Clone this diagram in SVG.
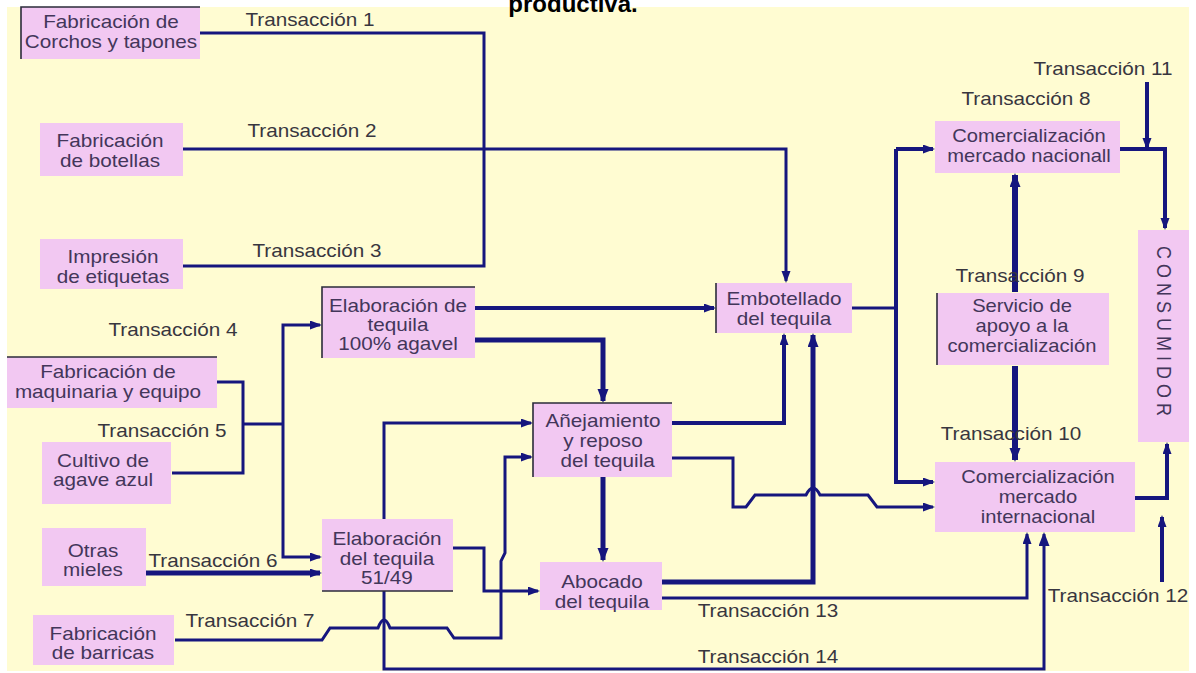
<svg xmlns="http://www.w3.org/2000/svg" width="1196" height="673" viewBox="0 0 1196 673">
  <defs>
    <marker id="ah" markerUnits="userSpaceOnUse" markerWidth="13" markerHeight="10" refX="10" refY="4.5" orient="auto">
      <path d="M0,0 L12,4.5 L0,9 z" fill="#16167e"/>
    </marker>
    <marker id="ahb" markerUnits="userSpaceOnUse" markerWidth="15" markerHeight="12" refX="12" refY="5.5" orient="auto">
      <path d="M0,0 L14,5.5 L0,11 z" fill="#16167e"/>
    </marker>
  </defs>
  <style>
    .bg{fill:#fffcd2}
    .box{fill:#f2c8f2}
    .edge{fill:none;stroke:#2b2b3a;stroke-width:1.6}
    .t{font-family:"Liberation Sans",Arial,Helvetica,sans-serif;font-size:18px;fill:#43365a;text-anchor:middle}
    .lbl{font-family:"Liberation Sans",Arial,Helvetica,sans-serif;font-size:18px;fill:#38363f;text-anchor:middle}
    .title{font-family:"Liberation Sans",Arial,Helvetica,sans-serif;font-size:24px;font-weight:bold;fill:#000;text-anchor:middle}
    .c{fill:none;stroke:#16167e;stroke-width:3;stroke-linejoin:miter}
    .w4{stroke-width:4}
    .w5{stroke-width:5}
    .w6{stroke-width:6}
    .a{marker-end:url(#ah)}
    .ab{marker-end:url(#ahb)}
  </style>

  <!-- page -->
  <rect x="0" y="0" width="1196" height="673" fill="#ffffff"/>
  <rect class="bg" x="7" y="7" width="1182" height="664"/>
  <text class="title" x="573" y="12">productiva.</text>

  <!-- connectors -->
  <g id="connectors">
    <path class="c" d="M200 33 H484 V266 H183"/>
    <path class="c a" d="M183 149 H786 V281"/>
    <path class="c w4 a" d="M475 308 H714"/>
    <path class="c w5 ab" d="M475 340 H603 V401"/>
    <path class="c" d="M217 382 H243 V473 H172"/>
    <path class="c" d="M243 424 H283"/>
    <path class="c a" d="M283 424 V325 H320"/>
    <path class="c a" d="M283 424 V557 H320"/>
    <path class="c w5 a" d="M146 573 H320"/>
    <path class="c a" d="M384 519 V423 H531"/>
    <path class="c a" d="M453 548 H484 V591 H538"/>
    <path class="c a" d="M175 640 H322 L330 628 H378 Q384 612 390 628 H447 L454 638 H501 V561 L505 553 V457 H531"/>
    <path class="c" d="M384 591 V669 H1044 V600"/>
    <path class="c ab" d="M1044 600 V534"/>
    <path class="c w5 ab" d="M603 477 V560"/>
    <path class="c w4 a" d="M672 423 H784 V335"/>
    <path class="c a" d="M672 458 H733 V507 H746 L755 495 H806 Q813 481 820 495 H868 L877 507 H933"/>
    <path class="c w5 ab" d="M662 582 H813 V335"/>
    <path class="c a" d="M662 598 H1027 V534"/>
    <path class="c" d="M852 308 H896"/>
    <path class="c w4 a" d="M896 149 H933"/>
    <path class="c w4 a" d="M896 149 V482 H933"/>
    <path class="c w6 ab" d="M1015 292 V175"/>
    <path class="c w6 ab" d="M1015 366 V460"/>
    <path class="c w4 a" d="M1120 149 H1165 V228"/>
    <path class="c w4 a" d="M1147 82 V148"/>
    <path class="c w4 a" d="M1135 498 H1167 V444"/>
    <path class="c w4 a" d="M1162 582 V517"/>
  </g>

  <!-- connector labels -->
  <g id="labels">
    <text class="lbl" transform="translate(310 26) scale(1.15 1)">Transacción 1</text>
    <text class="lbl" transform="translate(312 137) scale(1.15 1)">Transacción 2</text>
    <text class="lbl" transform="translate(317 257) scale(1.15 1)">Transacción 3</text>
    <text class="lbl" transform="translate(173 336) scale(1.15 1)">Transacción 4</text>
    <text class="lbl" transform="translate(162 437) scale(1.15 1)">Transacción 5</text>
    <text class="lbl" transform="translate(213 567) scale(1.15 1)">Transacción 6</text>
    <text class="lbl" transform="translate(250 627) scale(1.15 1)">Transacción 7</text>
    <text class="lbl" transform="translate(1026 105) scale(1.15 1)">Transacción 8</text>
    <text class="lbl" transform="translate(1020 282) scale(1.15 1)">Transacción 9</text>
    <text class="lbl" transform="translate(1011 440) scale(1.15 1)">Transacción 10</text>
    <text class="lbl" transform="translate(1103 75) scale(1.15 1)">Transacción 11</text>
    <text class="lbl" transform="translate(1118 602) scale(1.15 1)">Transacción 12</text>
    <text class="lbl" transform="translate(768 617) scale(1.15 1)">Transacción 13</text>
    <text class="lbl" transform="translate(768 663) scale(1.15 1)">Transacción 14</text>
  </g>

  <!-- nodes -->
  <g id="corchos">
    <rect class="box" x="21" y="7" width="179" height="52"/>
    <path class="edge" d="M21 59 V7 H200"/>
    <text class="t" transform="translate(111 28) scale(1.15 1)"><tspan x="0">Fabricación de</tspan><tspan x="0" dy="20">Corchos y tapones</tspan></text>
  </g>
  <g id="botellas">
    <rect class="box" x="40" y="123" width="143" height="53"/>
    <text class="t" transform="translate(110 147) scale(1.15 1)"><tspan x="0">Fabricación</tspan><tspan x="0" dy="20">de botellas</tspan></text>
  </g>
  <g id="etiquetas">
    <rect class="box" x="40" y="239" width="143" height="50"/>
    <text class="t" transform="translate(113 263) scale(1.15 1)"><tspan x="0">Impresión</tspan><tspan x="0" dy="20">de etiquetas</tspan></text>
  </g>
  <g id="tequila100">
    <rect class="box" x="322" y="287" width="153" height="71"/>
    <path class="edge" d="M322 358 V287 H475"/>
    <text class="t" transform="translate(398 312) scale(1.15 1)"><tspan x="0">Elaboración de</tspan><tspan x="0" dy="19">tequila</tspan><tspan x="0" dy="19">100% agavel</tspan></text>
  </g>
  <g id="maquinaria">
    <rect class="box" x="7" y="357" width="210" height="51"/>
    <path class="edge" d="M7 357 H217"/>
    <text class="t" transform="translate(108 378) scale(1.15 1)"><tspan x="0">Fabricación de</tspan><tspan x="0" dy="20">maquinaria y equipo</tspan></text>
  </g>
  <g id="agave">
    <rect class="box" x="42" y="442" width="129" height="62"/>
    <text class="t" transform="translate(103 467) scale(1.15 1)"><tspan x="0">Cultivo de</tspan><tspan x="0" dy="19">agave azul</tspan></text>
  </g>
  <g id="mieles">
    <rect class="box" x="42" y="528" width="104" height="58"/>
    <text class="t" transform="translate(93 557) scale(1.15 1)"><tspan x="0">Otras</tspan><tspan x="0" dy="19">mieles</tspan></text>
  </g>
  <g id="barricas">
    <rect class="box" x="33" y="615" width="141" height="50"/>
    <text class="t" transform="translate(103 640) scale(1.15 1)"><tspan x="0">Fabricación</tspan><tspan x="0" dy="19">de barricas</tspan></text>
  </g>
  <g id="tequila5149">
    <rect class="box" x="322" y="519" width="131" height="72"/>
    <path class="edge" d="M322 591 H453"/>
    <text class="t" transform="translate(387 545) scale(1.15 1)"><tspan x="0">Elaboración</tspan><tspan x="0" dy="20">del tequila</tspan><tspan x="0" dy="19">51/49</tspan></text>
  </g>
  <g id="embotellado">
    <rect class="box" x="716" y="283" width="136" height="50"/>
    <path class="edge" d="M716 283 V333"/>
    <text class="t" transform="translate(784 305) scale(1.15 1)"><tspan x="0">Embotellado</tspan><tspan x="0" dy="20">del tequila</tspan></text>
  </g>
  <g id="anejamiento">
    <rect class="box" x="533" y="403" width="139" height="74"/>
    <path class="edge" d="M533 477 V403 H672"/>
    <text class="t" transform="translate(603 427) scale(1.15 1)"><tspan x="0">Añejamiento</tspan><tspan x="0" dy="20">y reposo</tspan><tspan x="4" dy="20">del tequila</tspan></text>
  </g>
  <g id="abocado">
    <rect class="box" x="540" y="562" width="122" height="48"/>
    <text class="t" transform="translate(602 588) scale(1.15 1)"><tspan x="0">Abocado</tspan><tspan x="0" dy="20">del tequila</tspan></text>
  </g>
  <g id="nacional">
    <rect class="box" x="935" y="121" width="185" height="52"/>
    <text class="t" transform="translate(1029 142) scale(1.12 1)"><tspan x="0">Comercialización</tspan><tspan x="0" dy="20">mercado nacionall</tspan></text>
  </g>
  <g id="servicio">
    <rect class="box" x="937" y="293" width="172" height="72"/>
    <path class="edge" d="M937 293 V365"/>
    <text class="t" transform="translate(1022 312) scale(1.12 1)"><tspan x="0">Servicio de</tspan><tspan x="0" dy="20">apoyo a la</tspan><tspan x="0" dy="20">comercialización</tspan></text>
  </g>
  <g id="internacional">
    <rect class="box" x="935" y="462" width="200" height="70"/>
    <text class="t" transform="translate(1038 483) scale(1.12 1)"><tspan x="0">Comercialización</tspan><tspan x="0" dy="20">mercado</tspan><tspan x="0" dy="20">internacional</tspan></text>
  </g>
  <g id="consumidor">
    <rect class="box" x="1138" y="230" width="51" height="212"/>
    <text class="t" font-size="17" transform="translate(1157 331) rotate(90) scale(1 1.12)">C O N S U M I D O R</text>
  </g>
</svg>
